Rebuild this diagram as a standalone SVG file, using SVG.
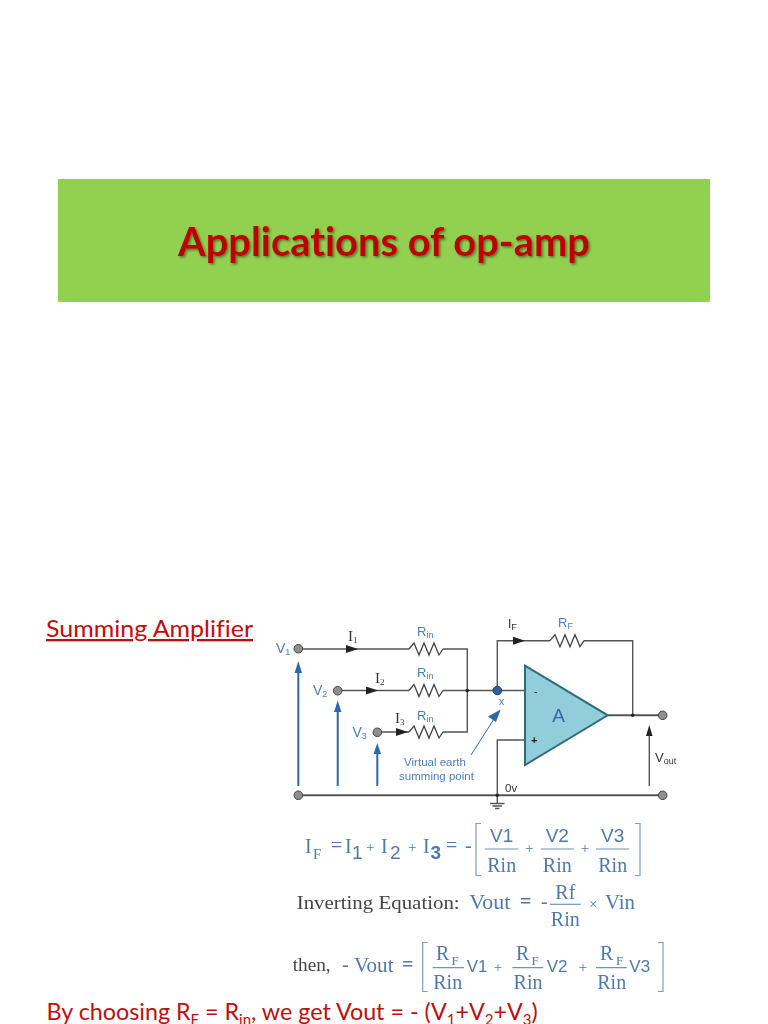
<svg xmlns="http://www.w3.org/2000/svg" width="768" height="1024" viewBox="0 0 768 1024">
<style>
text{font-variant-ligatures:none}
.ln{fill:none;stroke:#555;stroke-width:1.4}
.bl{fill:none;stroke:#2f68a8;stroke-width:2}
.node{fill:#8e8e8e;stroke:#444;stroke-width:1}
.dot{fill:#222}
.lb{font-family:"Liberation Sans",Arial,sans-serif;fill:#4a7fb8}
.cur{font-family:"Liberation Serif","Times New Roman",serif;fill:#333;font-size:15px}
.sub{font-size:9px}
.eq{font-family:"Liberation Serif","Times New Roman",serif;fill:#4f79ad;font-size:20px}
.eqs{font-family:"Liberation Sans",Arial,sans-serif;fill:#4f79ad;font-size:19px}
.eqv{font-family:"Liberation Sans",Arial,sans-serif;fill:#4f79ad;font-size:17px}
.mid{text-anchor:middle}
.red{font-family:Lato,"Open Sans",sans-serif;fill:#c00d0d;font-size:23.3px}
.fr{stroke:#6f92bd;stroke-width:1.2;fill:none}
.brk{stroke:#7f9cc2;stroke-width:1.2;fill:none}
</style>
<defs>
<filter id="shadow" x="-5%" y="-20%" width="110%" height="150%"><feDropShadow dx="1.5" dy="1.5" stdDeviation="1.2" flood-color="#3c5a20" flood-opacity="0.75"/></filter>
<filter id="soft"><feGaussianBlur stdDeviation="0.35"/></filter>
<marker id="ah" markerWidth="12" markerHeight="8" refX="6" refY="4" orient="auto" markerUnits="userSpaceOnUse"><path d="M0 0L12 4L0 8Z" fill="#222"/></marker>
<path id="zz" d="M0 0L5 -6L10 6L15 -6L20 6L25 -6L30 6L34 0" fill="none" stroke="#444" stroke-width="1.3"/>
</defs>
<rect width="768" height="1024" fill="#fff"/>
<g id="title-banner">
<rect x="58" y="179" width="652" height="123" fill="#92d050"/>
<text x="178" y="255.5" textLength="412" lengthAdjust="spacingAndGlyphs" font-family="Lato,'Open Sans',sans-serif" font-weight="700" font-size="40" fill="#bd0000" filter="url(#shadow)">Applications of op-amp</text>
</g>
<text id="heading" x="46" y="637" textLength="207" lengthAdjust="spacingAndGlyphs" class="red" text-decoration="underline">Summing Amplifier</text>

<g filter="url(#soft)">
<g id="connectors">
<path class="ln" d="M298 649H409M443 649H467.3V732H443M338 690.5H409M443 690.5H525M378 732H409"/>
<path class="ln" d="M497.3 690.5V640.7H550M584 640.7H632.7V715.3"/>
<path class="ln" d="M607.7 715.3H663" style="stroke-width:2"/>
<path class="ln" d="M525 740H497.3V795.3"/>
<path class="ln" d="M298 795.3H663" style="stroke-width:2"/>
<path class="ln" d="M497.3 795.3V803M490 803.5H504.5M492.5 806H502M495 808.5H499.5"/>
<use href="#zz" x="409" y="649"/>
<use href="#zz" x="409" y="690.5"/>
<use href="#zz" x="409" y="732"/>
<use href="#zz" x="550" y="640.7"/>
<path d="M344 649H352" marker-end="url(#ah)"/>
<path d="M366 690.5H372" marker-end="url(#ah)"/>
<path d="M394 732H402" marker-end="url(#ah)"/>
<path d="M511 640.7H519" marker-end="url(#ah)"/>
<path class="bl" d="M298.3 786V673"/>
<path d="M298.3 661L302 673H294.6Z" fill="#2f68a8"/>
<path class="bl" d="M337.7 786V712"/>
<path d="M337.7 700.5L341.4 712H334Z" fill="#2f68a8"/>
<path class="bl" d="M377.3 786V754"/>
<path d="M377.3 743L381 754H373.6Z" fill="#2f68a8"/>
<path class="ln" d="M649.3 786V735"/>
<path d="M649.3 725L652.5 736H646Z" fill="#222"/>
<path d="M471 755L494 719" fill="none" stroke="#2f68a8" stroke-width="1"/>
<path d="M500.7 709.5L496 722L488 716.5Z" fill="#2f68a8"/>
</g>
<g id="opamp">
<path d="M525 665.7L607.7 715.3L525 765Z" fill="#92cddc" stroke="#2f6d78" stroke-width="2"/>
<text x="534" y="695" font-family="'Liberation Sans',sans-serif" font-size="10" fill="#222">-</text>
<text x="531" y="744" font-family="'Liberation Sans',sans-serif" font-size="11" font-weight="700" fill="#222">+</text>
<text x="558.5" y="722" class="lb mid" font-size="19" style="fill:#2f68a8">A</text>
</g>
<g id="node-v1"><circle class="node" cx="298.3" cy="648.7" r="4.3"/><text class="lb" x="276" y="653" font-size="14">V<tspan class="sub" dy="2">1</tspan></text></g>
<g id="node-v2"><circle class="node" cx="337.7" cy="690.7" r="4.3"/><text class="lb" x="313" y="695" font-size="14">V<tspan class="sub" dy="2">2</tspan></text></g>
<g id="node-v3"><circle class="node" cx="377.3" cy="732.3" r="4.3"/><text class="lb" x="352.5" y="737" font-size="14">V<tspan class="sub" dy="2">3</tspan></text></g>
<g id="node-gnd-left"><circle class="node" cx="298.3" cy="795.3" r="4.3"/></g>
<g id="node-gnd-right"><circle class="node" cx="662.7" cy="795.3" r="4.3"/></g>
<g id="node-out"><circle class="node" cx="662.7" cy="715.3" r="4.3"/></g>
<g id="node-x"><circle cx="497.3" cy="690.5" r="4.3" fill="#2f5f9e" stroke="#1c3c66"/><text class="lb" x="499" y="705" font-size="10.5">x</text></g>
<g id="junctions">
<circle class="dot" cx="467.3" cy="690.5" r="1.8"/><circle class="dot" cx="632.7" cy="715.3" r="1.8"/><circle class="dot" cx="497.3" cy="795.3" r="1.8"/>
</g>
<g id="labels">
<text class="cur" x="348" y="641">I<tspan class="sub" dy="2">1</tspan></text>
<text class="cur" x="375" y="683">I<tspan class="sub" dy="2">2</tspan></text>
<text class="cur" x="395" y="723">I<tspan class="sub" dy="2">3</tspan></text>
<text class="lb" x="417" y="636" font-size="13">R<tspan class="sub" dy="2">in</tspan></text>
<text class="lb" x="417" y="677" font-size="13">R<tspan class="sub" dy="2">in</tspan></text>
<text class="lb" x="417" y="720" font-size="13">R<tspan class="sub" dy="2">in</tspan></text>
<text class="lb" x="558" y="627" font-size="13">R<tspan class="sub" dy="2">F</tspan></text>
<text x="508" y="628" font-family="'Liberation Sans',sans-serif" font-size="12" fill="#333">I<tspan class="sub" dy="2">F</tspan></text>
<text class="lb mid" x="435" y="766" font-size="11.5">Virtual earth</text>
<text class="lb mid" x="436.5" y="780" font-size="11.5">summing point</text>
<text x="505" y="792" font-family="'Liberation Sans',sans-serif" font-size="11.5" fill="#333">0v</text>
<text x="655" y="762" font-family="'Liberation Sans',sans-serif" font-size="13" fill="#333">V<tspan class="sub" dy="2">out</tspan></text>
</g>
<g id="equation-1">
<text class="eq" x="305" y="853">I</text><text class="eq" x="313" y="858.5" style="font-size:15px">F</text>
<text class="eq" x="331" y="852">=</text><text class="eq" x="345" y="853">I</text><text class="eqs" x="352" y="859">1</text>
<text class="eq" x="366" y="852" style="font-size:15px">+</text><text class="eq" x="381" y="853">I</text><text class="eqs" x="390" y="859">2</text>
<text class="eq" x="408" y="852" style="font-size:15px">+</text><text class="eq" x="423" y="853">I</text><text class="eqs" x="430.5" y="859" font-weight="700">3</text>
<text class="eq" x="446" y="852">=</text><text class="eq" x="465" y="852">-</text>
<path class="brk" d="M481 823.5H476V875.5H481M635 823.5H640V875.5H635"/>
<path class="fr" d="M485 849H518.3M540.7 849H574M596 849H629.3"/>
<text class="eqs mid" x="501.7" y="842">V1</text><text class="eq mid" x="501.7" y="872">Rin</text>
<text class="eq mid" x="529.3" y="853" style="font-size:15px">+</text>
<text class="eqs mid" x="557.3" y="842">V2</text><text class="eq mid" x="557.3" y="872">Rin</text>
<text class="eq mid" x="585" y="853" style="font-size:15px">+</text>
<text class="eqs mid" x="612.7" y="842">V3</text><text class="eq mid" x="612.7" y="872">Rin</text>
</g>
<g id="equation-2">
<text class="eq" x="296.7" y="908.5" textLength="163" lengthAdjust="spacingAndGlyphs" style="fill:#444;font-size:19px">Inverting Equation:</text>
<text class="eq" x="469.3" y="908.5" textLength="41" lengthAdjust="spacingAndGlyphs">Vout</text>
<text class="eq" x="520" y="908" font-weight="700">=</text>
<text class="eq" x="541" y="908">-</text>
<path class="fr" d="M550 904.3H580.7"/>
<text class="eq mid" x="565.3" y="898.5">Rf</text><text class="eq mid" x="565.3" y="926">Rin</text>
<text class="eq" x="589" y="909" style="font-size:15px">×</text>
<text class="eq" x="605" y="908.5" textLength="30" lengthAdjust="spacingAndGlyphs">Vin</text>
</g>
<g id="equation-3">
<text class="eq" x="292.7" y="971" textLength="38" lengthAdjust="spacingAndGlyphs" style="fill:#444;font-size:18px">then,</text>
<text class="eq" x="342" y="971">-</text>
<text class="eq" x="354" y="971.5" textLength="39.5" lengthAdjust="spacingAndGlyphs">Vout</text>
<text class="eq" x="402" y="971" font-weight="700">=</text>
<path class="brk" d="M427.7 942.5H422.7V991.5H427.7M658 942.5H663V991.5H658"/>
<path class="fr" d="M432.7 967.7H464M512.3 967.7H543.3M596 967.7H626.7"/>
<text class="eq" x="436" y="960">R</text><text class="eq" x="451.5" y="965" style="font-size:13px">F</text><text class="eq mid" x="447.7" y="989">Rin</text>
<text class="eqv" x="466.7" y="972">V1</text><text class="eq mid" x="498" y="972" style="font-size:15px">+</text>
<text class="eq" x="516" y="960">R</text><text class="eq" x="531.5" y="965" style="font-size:13px">F</text><text class="eq mid" x="528" y="989">Rin</text>
<text class="eqv" x="546.7" y="972">V2</text><text class="eq mid" x="583" y="972" style="font-size:15px">+</text>
<text class="eq" x="600" y="960">R</text><text class="eq" x="616" y="965" style="font-size:13px">F</text><text class="eq mid" x="611.7" y="989">Rin</text>
<text class="eqv" x="629.3" y="972">V3</text>
</g>
</g>
<text id="conclusion" class="red" x="46.5" y="1020">By choosing R<tspan font-size="15" dy="5">F</tspan><tspan dy="-5"> = R</tspan><tspan font-size="15" dy="5">in</tspan><tspan dy="-5">, we get Vout = - (V</tspan><tspan font-size="15" dy="5">1</tspan><tspan dy="-5">+V</tspan><tspan font-size="15" dy="5">2</tspan><tspan dy="-5">+V</tspan><tspan font-size="15" dy="5">3</tspan><tspan dy="-5">)</tspan></text>
</svg>
